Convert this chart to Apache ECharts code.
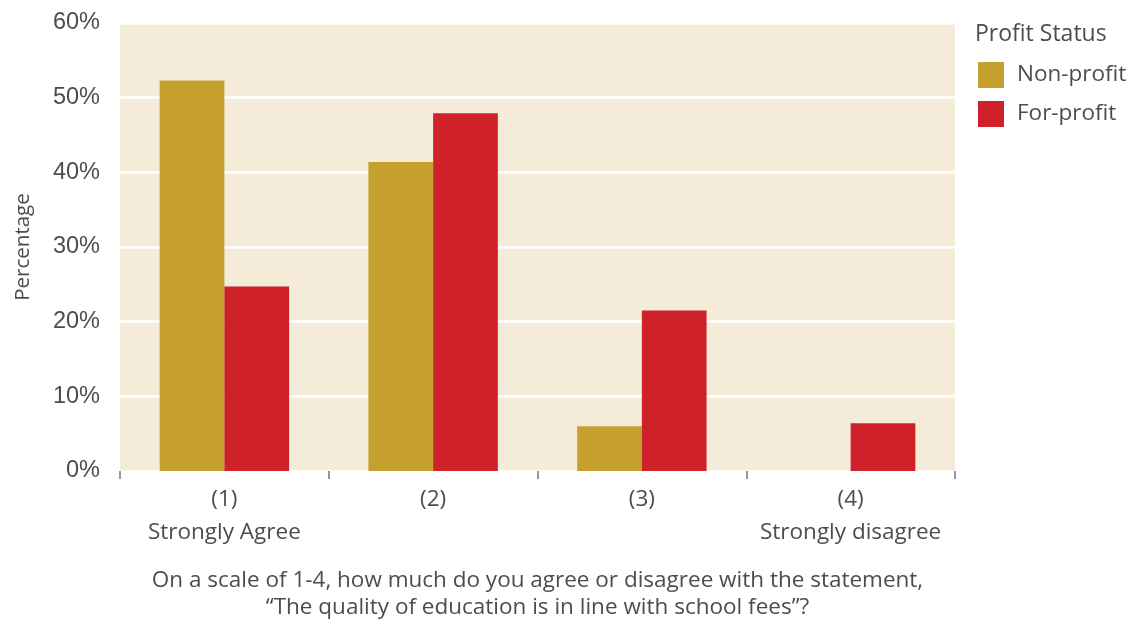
<!DOCTYPE html>
<html>
<head>
<meta charset="utf-8">
<script src="https://cdn.jsdelivr.net/npm/echarts@6/dist/echarts.min.js"></script>
<style>html,body{margin:0;padding:0;background:#fff;}#c{width:1136px;height:626px;}</style>
</head>
<body>
<div id="c"></div>
<script>
const categories = ['(1)\nStrongly Agree', '(2)', '(3)', '(4)\nStrongly disagree'];
const nonProfit = [52.3, 41.4, 6.0, 0];
const forProfit = [24.7, 47.9, 21.5, 6.4];
const yTicks = [0, 10, 20, 30, 40, 50, 60];

const txt = '#4d4d4d';
const font = 'Open Sans';
const chart = echarts.init(document.getElementById('c'));
chart.setOption({
  backgroundColor: '#ffffff',
  animation: false,
  grid: { left: 120, right: 181, top: 23, bottom: 152, show: true, backgroundColor: '#f4ebd8', borderWidth: 0 },
  legend: {
    orient: 'vertical', left: 973, top: 57,
    itemWidth: 26, itemHeight: 26, itemGap: 13,
    icon: 'rect',
    textStyle: { color: txt, fontSize: 22.5, fontFamily: font, padding: [0, 0, 0, 8] },
    data: ['Non-profit', 'For-profit']
  },
  graphic: [{
    type: 'text', left: 975, top: 23,
    style: { text: 'Profit Status', fill: txt, fontSize: 23, fontFamily: font }
  }],
  xAxis: {
    type: 'category', data: categories,
    axisLine: { show: false },
    axisTick: { show: true, length: 8, lineStyle: { color: '#777', width: 1.5 } },
    axisLabel: { color: txt, fontSize: 22.5, fontFamily: font, lineHeight: 33, margin: 12, interval: 0 },
    name: 'On a scale of 1-4, how much do you agree or disagree with the statement,\n\u201CThe quality of education is in line with school fees\u201D?',
    nameLocation: 'middle', nameGap: 96,
    nameTextStyle: { color: txt, fontSize: 22.5, fontFamily: font, lineHeight: 27 }
  },
  yAxis: {
    type: 'value', min: yTicks[0], max: yTicks[yTicks.length - 1], interval: 10,
    axisLabel: { color: txt, fontSize: 23.5, fontFamily: 'Liberation Sans', margin: 20, formatter: v => v + '%' },
    axisLine: { show: false }, axisTick: { show: false },
    splitLine: { show: true, lineStyle: { color: '#ffffff', width: 2.5 } },
    name: 'Percentage', nameLocation: 'middle', nameGap: 86,
    nameTextStyle: { color: txt, fontSize: 20.5, fontFamily: font }
  },
  series: [
    { name: 'Non-profit', type: 'bar', data: nonProfit, itemStyle: { color: '#c5a02e' }, barGap: '0%', barCategoryGap: '38%' },
    { name: 'For-profit', type: 'bar', data: forProfit, itemStyle: { color: '#ce2129' }, barGap: '0%', barCategoryGap: '38%' }
  ]
});
</script>
</body>
</html>
